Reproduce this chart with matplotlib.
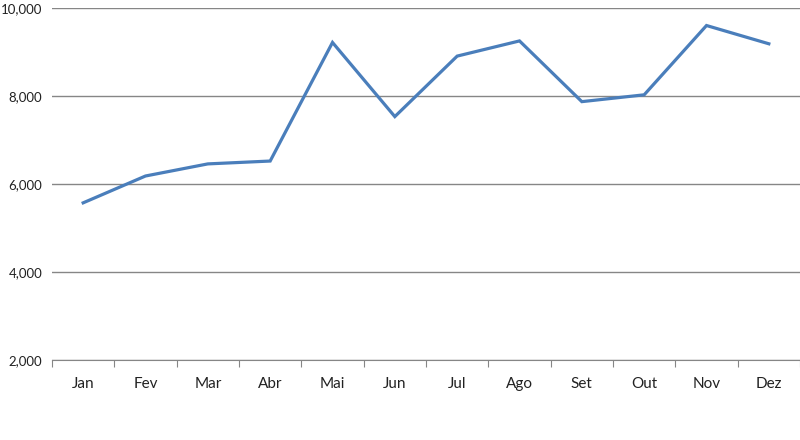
import matplotlib
matplotlib.use("Agg")
import matplotlib.pyplot as plt
import numpy as np

months = ["Jan", "Fev", "Mar", "Abr", "Mai", "Jun", "Jul", "Ago", "Set", "Out", "Nov", "Dez"]
values = [5570, 6180, 6455, 6520, 9215, 7530, 8905, 9250, 7870, 8025, 9600, 9185]
yticks = [2000, 4000, 6000, 8000, 10000]

plt.rcParams["font.family"] = ["Lato", "DejaVu Sans"]

fig = plt.figure(figsize=(8, 4.4), dpi=100)
ax = fig.add_axes([0.065, 0.182, 0.935, 0.8])

x = np.arange(len(months)) + 0.5
ax.plot(x, values, color="#4a7ebb", linewidth=2.3, solid_joinstyle="miter", zorder=3)

ax.set_xlim(0, len(months))
ax.set_ylim(2000, 10000)
ax.set_yticks(yticks)
ax.set_yticklabels(["{:,}".format(v) for v in yticks], fontsize=9.5, color="#222222")
ax.yaxis.grid(True, color="#868686", linewidth=1)
ax.tick_params(axis="y", length=0, pad=7)

ax.set_xticks(np.arange(len(months) + 1))
ax.set_xticklabels([])
ax.set_xticks(x, minor=True)
ax.set_xticklabels(months, minor=True, fontsize=11, color="#222222")
ax.tick_params(axis="x", which="major", length=5, color="#868686", direction="out")
ax.tick_params(axis="x", which="minor", length=0, pad=12)

for s in ("left", "right", "top"):
    ax.spines[s].set_visible(False)
ax.spines["bottom"].set_color("#868686")
ax.set_axisbelow(True)

fig.savefig("out.png", dpi=100)
